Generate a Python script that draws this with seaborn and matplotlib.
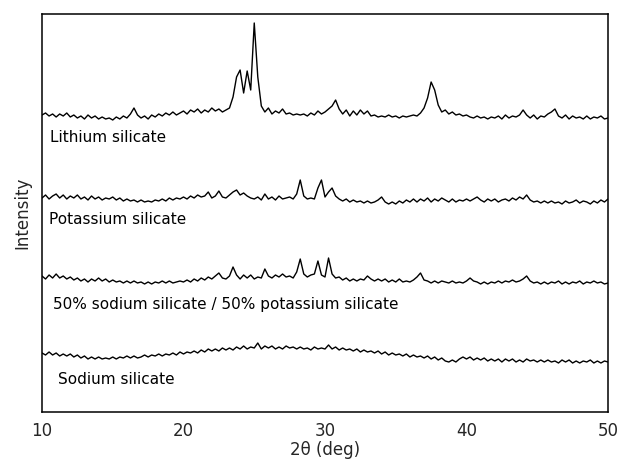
import numpy as np
import pandas as pd
import matplotlib
matplotlib.use("Agg")
import matplotlib.pyplot as plt
import seaborn as sns

# 2-theta grid: 10 .. 50 deg, 0.25 deg step
two_theta = [10 + 0.25 * i for i in range(161)]

lithium = [
    297, 299, 296, 298, 295, 298, 296, 299,
    295, 297, 294, 296, 293, 297, 294, 296,
    293, 295, 293, 294, 292, 295, 293, 296,
    294, 298, 304, 297, 294, 296, 293, 297,
    295, 298, 296, 299, 297, 300, 297, 299,
    301, 298, 302, 300, 303, 299, 302, 300,
    304, 301, 303, 300, 302, 304, 315, 335,
    342, 319, 341, 322, 389, 335, 306, 300,
    304, 298, 301, 299, 303, 298, 299, 297,
    298, 297, 298, 296, 299, 297, 301, 298,
    300, 303, 306, 312, 303, 298, 302, 296,
    301, 297, 302, 298, 301, 296, 297, 295,
    296, 295, 297, 295, 296, 294, 296, 295,
    296, 297, 296, 299, 304, 314, 330, 322,
    307, 300, 302, 298, 300, 297, 298, 296,
    297, 295, 294, 296, 294, 295, 293, 295,
    294, 296, 293, 297, 294, 296, 295, 297,
    302, 297, 294, 297, 293, 296, 295, 298,
    300, 303, 296, 294, 297, 293, 296, 294,
    295, 293, 296, 293, 295, 294, 296, 293,
    294,
]

potassium = [
    214, 217, 213, 216, 218, 214, 217, 213,
    216, 214, 217, 213, 215, 212, 216, 213,
    215, 212, 214, 213, 215, 212, 214, 211,
    213, 211, 212, 210, 212, 210, 211, 210,
    212, 211, 213, 211, 214, 212, 214, 213,
    215, 213, 216, 214, 217, 215, 216, 220,
    214, 216, 221, 215, 214, 217, 220, 222,
    217, 219, 216, 214, 213, 215, 212, 218,
    213, 215, 212, 216, 213, 214, 215, 213,
    218, 232, 216, 213, 214, 213, 224, 232,
    215, 220, 224, 216, 213, 211, 213, 210,
    212, 210, 211, 209, 211, 209, 210, 212,
    215, 210, 208, 210, 208, 211, 209, 212,
    210, 213, 210, 213, 211, 214, 210, 213,
    211, 214, 212, 210, 213, 210, 212, 211,
    213, 211, 213, 215, 212, 210, 213, 211,
    213, 210, 212, 213, 211, 214, 212, 215,
    213, 217, 212, 210, 211, 209, 211, 209,
    211, 209, 210, 208, 211, 209, 210, 212,
    209, 211, 210, 208, 211, 209, 212, 210,
    213,
]

mixture = [
    136, 133, 137, 134, 138, 134, 136, 133,
    135, 132, 134, 131, 133, 130, 133, 131,
    134, 131, 133, 130, 132, 130, 131, 129,
    131, 129, 131, 129, 130, 128, 130, 128,
    130, 129, 131, 129, 131, 129, 130, 131,
    130, 132, 130, 133, 131, 134, 132, 135,
    133, 136, 139, 134, 133, 136, 145, 137,
    133, 137, 134, 137, 133, 135, 134, 143,
    136, 134, 137, 135, 138, 135, 136, 134,
    140, 153, 138, 135, 137, 138, 151, 137,
    135, 154, 138, 134, 135, 132, 134, 131,
    133, 131, 133, 132, 136, 133, 131, 133,
    131, 133, 130, 132, 130, 133, 130, 131,
    130, 132, 135, 139, 132, 131, 129, 131,
    129, 131, 130, 129, 131, 129, 130, 129,
    131, 134, 131, 130, 128, 130, 128, 130,
    129, 131, 129, 131, 130, 132, 130, 131,
    133, 136, 131, 129, 130, 128, 130, 128,
    130, 129, 131, 128, 130, 128, 130, 129,
    131, 128, 130, 129, 131, 129, 130, 128,
    129,
]

sodium = [
    59, 57, 60, 57, 59, 56, 58, 56,
    58, 55, 57, 54, 56, 53, 55, 53,
    55, 53, 54, 53, 55, 53, 55, 54,
    56, 54, 56, 54, 55, 57, 55, 57,
    56, 58, 56, 58, 57, 59, 57, 60,
    58, 60, 59, 61, 59, 62, 60, 63,
    61, 63, 61, 64, 62, 64, 62, 65,
    63, 66, 63, 65, 64, 69, 63, 66,
    64, 66, 63, 65, 63, 66, 64, 65,
    63, 65, 63, 64, 62, 65, 63, 64,
    63, 67, 63, 65, 62, 64, 62, 63,
    61, 63, 60, 62, 60, 61, 59, 61,
    58, 60, 57, 59, 57, 58, 56, 58,
    55, 57, 55, 56, 54, 56, 53, 55,
    52, 54, 51, 50, 52, 50, 53, 55,
    53, 55, 52, 54, 52, 54, 51, 53,
    51, 53, 50, 53, 51, 53, 50, 52,
    50, 53, 51, 52, 50, 52, 50, 52,
    50, 51, 49, 52, 50, 52, 49, 51,
    49, 51, 50, 52, 49, 51, 49, 51,
    50,
]

sample_names = [
    "Lithium silicate",
    "Potassium silicate",
    "50% sodium silicate / 50% potassium silicate",
    "Sodium silicate",
]
x_ticks = [10, 20, 30, 40, 50]

series = [lithium, potassium, mixture, sodium]
frames = []
for name, vals in zip(sample_names, series):
    assert len(vals) == len(two_theta)
    frames.append(pd.DataFrame({"two_theta": two_theta, "intensity": vals, "sample": name}))
df = pd.concat(frames, ignore_index=True)

sns.set_theme(style="white")
plt.rcParams["font.family"] = ["DejaVu Sans"]

fig = plt.figure(figsize=(6.2, 4.61), dpi=100)
ax = fig.add_axes([42 / 620, 1 - 412 / 461, (608 - 42) / 620, (412 - 14) / 461])

sns.lineplot(data=df, x="two_theta", y="intensity", hue="sample",
             palette=["black"] * 4, estimator=None, legend=False,
             linewidth=1.0, ax=ax)

# sample labels under each trace
label_pos = [(10.6, 274), (10.5, 192), (10.8, 107), (11.1, 33)]
for (lx, ly), txt in zip(label_pos, sample_names):
    ax.text(lx, ly, txt, fontsize=11, color="black", ha="left", va="center",
            family=["DejaVu Sans"])

ax.set_xlim(10, 50)
ax.set_ylim(0, 398)
ax.set_xticks(x_ticks)
ax.set_xticklabels([str(t) for t in x_ticks], fontsize=12)
ax.set_yticks([])
ax.tick_params(axis="x", direction="out", length=4, width=1, color="black", pad=3)
ax.set_xlabel("2\u03b8 (deg)", fontsize=12, labelpad=1)
ax.set_ylabel("Intensity", fontsize=12, labelpad=8)
for s in ax.spines.values():
    s.set_visible(True)
    s.set_color("black")
    s.set_linewidth(1.1)

fig.savefig("out.png", dpi=100)
